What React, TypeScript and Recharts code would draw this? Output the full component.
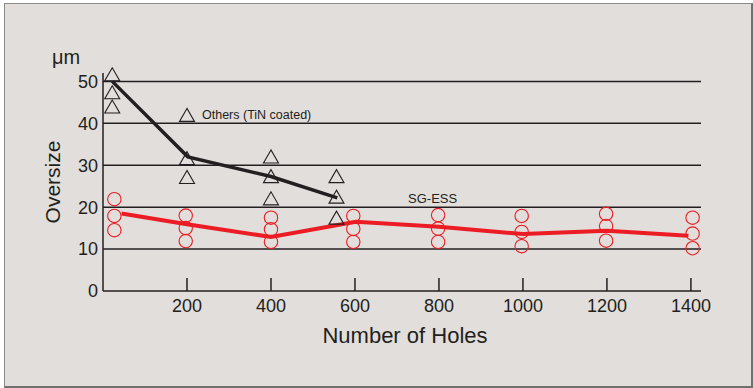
import React from 'react';
import {
  ComposedChart,
  Line,
  Scatter,
  XAxis,
  YAxis,
  ReferenceLine,
  ReferenceDot,
  Label,
} from 'recharts';

// individual measurements, grouped by number of holes
const othersHoles = [22, 200, 400, 556];
const othersSamples = [
  [51.7, 47.4, 44],
  [31.7, 27.2],
  [32.1, 27.4, 22.1],
  [27.4, 22.5, 17.5],
];
const sgHoles = [27, 197, 400, 596, 798, 997, 1198, 1404];
const sgSamples = [
  [21.9, 17.9, 14.5],
  [18, 15, 11.9],
  [17.5, 14.7, 11.7],
  [17.9, 14.8, 11.7],
  [18.1, 14.9, 11.7],
  [17.9, 14.1, 10.7],
  [18.4, 15.5, 12],
  [17.5, 13.7, 10.2],
];

// average lines
const othersTrendHoles = [22, 202, 400, 558];
const othersTrend = [50, 32, 27.3, 22.2];
const sgTrendHoles = [44, 200, 400, 602, 800, 1000, 1200, 1394];
const sgTrend = [18.5, 15.9, 12.9, 16.5, 15.3, 13.6, 14.4, 13.2];

const xTicks = [200, 400, 600, 800, 1000, 1200, 1400];
const yTicks = [0, 10, 20, 30, 40, 50];
const gridValues = [10, 20, 30, 40, 50];

const INK = '#231f20';
const RED = '#ec1c24';
const FONT = '"Liberation Sans", Arial, sans-serif';

const othersPoints = othersHoles.flatMap((x, i) => othersSamples[i].map((y) => ({ x, y })));
const sgPoints = sgHoles.flatMap((x, i) => sgSamples[i].map((y) => ({ x, y })));
const othersLine = othersTrendHoles.map((x, i) => ({ x, y: othersTrend[i] }));
const sgLine = sgTrendHoles.map((x, i) => ({ x, y: sgTrend[i] }));

const Triangle = ({ cx, cy }: any) => (
  <path
    d={`M${cx},${cy - 6.5} L${cx - 7.5},${cy + 6.5} L${cx + 7.5},${cy + 6.5} Z`}
    fill="none"
    stroke={INK}
    strokeWidth={1.1}
  />
);

const Ring = ({ cx, cy }: any) => (
  <circle cx={cx} cy={cy} r={6.7} fill="none" stroke={RED} strokeWidth={1.1} />
);

const OthersTag = ({ cx, cy }: any) => (
  <g>
    <Triangle cx={cx} cy={cy} />
    <text x={cx + 15} y={cy + 4.5} fontSize={12.5} fill={INK} fontFamily={FONT}>
      Others (TiN coated)
    </text>
  </g>
);

const SgTag = ({ cx, cy }: any) => (
  <text x={cx} y={cy + 4.5} fontSize={13} fill={INK} fontFamily={FONT} textAnchor="middle">
    SG-ESS
  </text>
);

export default function App() {
  return (
    <div style={{ position: 'relative', width: 753, height: 388, background: '#fff', fontFamily: FONT }}>
      <style>{'body{margin:0}'}</style>
      <div
        style={{
          position: 'absolute',
          left: 4,
          top: 3,
          width: 746,
          height: 382,
          background: '#e2dedb',
          borderLeft: '1px solid #8a8a8a',
          borderTop: '1px solid #8a8a8a',
          borderRight: '2px solid #707070',
          borderBottom: '2px solid #707070',
        }}
      />
      <div style={{ position: 'absolute', left: 0, top: 0 }}>
        <ComposedChart width={753} height={388} margin={{ top: 73, right: 52, bottom: 37, left: 5 }}>
          {gridValues.map((v) => (
            <ReferenceLine key={v} y={v} stroke={INK} strokeWidth={1.5} />
          ))}
          <XAxis
            dataKey="x"
            type="number"
            domain={[0, 1424]}
            ticks={xTicks}
            height={60}
            axisLine={{ stroke: INK, strokeWidth: 1.5 }}
            tickLine={{ stroke: INK, strokeWidth: 1.5 }}
            tickSize={-13}
            tickMargin={21}
            tick={{ fill: INK, fontSize: 18, fontFamily: FONT }}
          >
            <Label
              value="Number of Holes"
              position="insideBottom"
              offset={8}
              dx={3}
              style={{ fill: INK, fontSize: 22, fontFamily: FONT }}
            />
          </XAxis>
          <YAxis
            dataKey="y"
            type="number"
            domain={[0, 52]}
            ticks={yTicks}
            width={98}
            axisLine={{ stroke: INK, strokeWidth: 1.5 }}
            tickLine={false}
            tickSize={0}
            tickMargin={5}
            tick={{ fill: INK, fontSize: 18, fontFamily: FONT }}
          >
            <Label
              value="Oversize"
              angle={-90}
              position="center"
              dx={-1}
              style={{ fill: INK, fontSize: 21, fontFamily: FONT, textAnchor: 'middle' }}
            />
            <Label
              value="μm"
              position="top"
              offset={9}
              dx={12}
              style={{ fill: INK, fontSize: 20, fontFamily: FONT }}
            />
          </YAxis>
          <Line
            data={othersLine}
            dataKey="y"
            stroke={INK}
            strokeWidth={3.5}
            dot={false}
            activeDot={false}
            isAnimationActive={false}
          />
          <Line
            data={sgLine}
            dataKey="y"
            stroke={RED}
            strokeWidth={4}
            dot={false}
            activeDot={false}
            isAnimationActive={false}
          />
          <Scatter data={othersPoints} dataKey="y" shape={<Triangle />} isAnimationActive={false} />
          <Scatter data={sgPoints} dataKey="y" shape={<Ring />} isAnimationActive={false} />
          <ReferenceDot x={200} y={42} ifOverflow="visible" shape={<OthersTag />} />
          <ReferenceDot x={785} y={22.1} ifOverflow="visible" shape={<SgTag />} />
        </ComposedChart>
      </div>
    </div>
  );
}
